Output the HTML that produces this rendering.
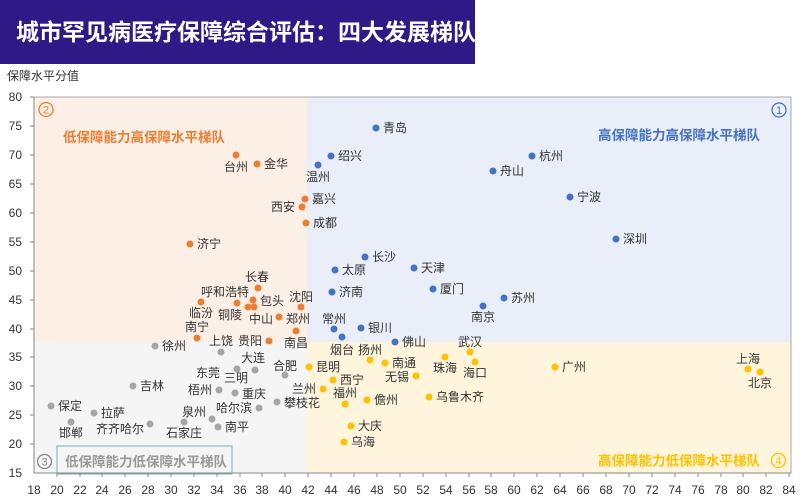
<!DOCTYPE html>
<html><head><meta charset="utf-8"><style>
html,body{margin:0;padding:0;background:#fff;}
svg{display:block;font-family:"Liberation Sans","Noto Sans CJK SC",sans-serif;}
</style></head><body>
<svg width="800" height="500" viewBox="0 0 800 500" xmlns="http://www.w3.org/2000/svg">
<rect x="0" y="0" width="475" height="64" fill="#2e1a87"/>
<text x="16" y="40" font-size="23" font-weight="bold" fill="#fff" font-family="'Noto Sans CJK SC',sans-serif">城市罕见病医疗保障综合评估：四大发展梯队</text>
<text x="7" y="80" font-size="12" fill="#333">保障水平分值</text>
<rect x="34" y="97" width="273" height="245" fill="#fcefe6"/>
<rect x="307" y="97" width="484" height="245" fill="#e9eef8"/>
<rect x="34" y="342" width="273" height="131" fill="#f5f5f6"/>
<rect x="307" y="342" width="484" height="131" fill="#fff5dc"/>
<rect x="34" y="97" width="757" height="376" fill="none" stroke="#aaa" stroke-width="1"/>
<line x1="34" y1="97" x2="34" y2="473" stroke="#888"/>
<line x1="34" y1="473" x2="791" y2="473" stroke="#888"/>
<g font-size="12" fill="#333" text-anchor="end">
<text x="22" y="101">80</text><text x="22" y="130">75</text><text x="22" y="159">70</text><text x="22" y="188">65</text><text x="22" y="217">60</text><text x="22" y="246">55</text><text x="22" y="275">50</text><text x="22" y="304">45</text><text x="22" y="333">40</text><text x="22" y="361">35</text><text x="22" y="390">30</text><text x="22" y="419">25</text><text x="22" y="448">20</text><text x="22" y="477">15</text>
</g>
<g stroke="#888">
<line x1="30" y1="97" x2="34" y2="97"/><line x1="30" y1="126" x2="34" y2="126"/><line x1="30" y1="155" x2="34" y2="155"/><line x1="30" y1="184" x2="34" y2="184"/><line x1="30" y1="213" x2="34" y2="213"/><line x1="30" y1="242" x2="34" y2="242"/><line x1="30" y1="271" x2="34" y2="271"/><line x1="30" y1="300" x2="34" y2="300"/><line x1="30" y1="329" x2="34" y2="329"/><line x1="30" y1="357" x2="34" y2="357"/><line x1="30" y1="386" x2="34" y2="386"/><line x1="30" y1="415" x2="34" y2="415"/><line x1="30" y1="444" x2="34" y2="444"/>
</g>
<circle cx="46" cy="109.5" r="7" fill="none" stroke="#ed7d31" stroke-width="1.3"/><text x="46" y="113.5" font-size="11" fill="#ed7d31" text-anchor="middle">2</text>
<text x="63" y="142" font-size="13.5" font-weight="bold" fill="#ed7d31">低保障能力高保障水平梯队</text>
<circle cx="779" cy="110" r="7" fill="none" stroke="#4472c4" stroke-width="1.3"/><text x="779" y="114" font-size="11" fill="#4472c4" text-anchor="middle">1</text>
<text x="760" y="140" font-size="13.5" font-weight="bold" fill="#4472c4" text-anchor="end">高保障能力高保障水平梯队</text>
<rect x="57" y="446" width="175" height="28" fill="none" stroke="#7ab" stroke-width="1"/>
<circle cx="44.5" cy="461.5" r="7" fill="none" stroke="#888" stroke-width="1.3"/><text x="44.5" y="465.5" font-size="11" fill="#888" text-anchor="middle">3</text>
<text x="146" y="466.5" font-size="13.5" font-weight="bold" fill="#999" text-anchor="middle">低保障能力低保障水平梯队</text>
<circle cx="778.5" cy="460.5" r="7" fill="none" stroke="#ffc000" stroke-width="1.3"/><text x="778.5" y="464.5" font-size="11" fill="#ffc000" text-anchor="middle">4</text>
<text x="760" y="465.5" font-size="13.5" font-weight="bold" fill="#ffc000" text-anchor="end">高保障能力低保障水平梯队</text>
<g font-size="12" fill="#333">
<g fill="#4472c4"><circle cx="376" cy="128" r="3.5"/><circle cx="331" cy="156" r="3.5"/><circle cx="318" cy="165" r="3.5"/><circle cx="532" cy="156" r="3.5"/><circle cx="493" cy="171" r="3.5"/><circle cx="570" cy="197" r="3.5"/><circle cx="616" cy="239" r="3.5"/><circle cx="365" cy="257" r="3.5"/><circle cx="335" cy="270" r="3.5"/><circle cx="414" cy="268" r="3.5"/><circle cx="433" cy="289" r="3.5"/><circle cx="332" cy="292" r="3.5"/><circle cx="504" cy="298" r="3.5"/><circle cx="483" cy="306" r="3.5"/><circle cx="334" cy="329" r="3.5"/><circle cx="342" cy="337" r="3.5"/><circle cx="361" cy="328" r="3.5"/><circle cx="395" cy="342" r="3.5"/></g>
<text x="383" y="132">青岛</text><text x="338" y="160">绍兴</text><text x="318" y="181" text-anchor="middle">温州</text><text x="539" y="160">杭州</text><text x="500" y="175">舟山</text><text x="577" y="201">宁波</text><text x="623" y="243">深圳</text><text x="372" y="261">长沙</text><text x="342" y="274">太原</text><text x="421" y="272">天津</text><text x="440" y="293">厦门</text><text x="339" y="296">济南</text><text x="511" y="302">苏州</text><text x="483" y="321" text-anchor="middle">南京</text><text x="334" y="323" text-anchor="middle">常州</text><text x="342" y="354" text-anchor="middle">烟台</text><text x="368" y="332">银川</text><text x="402" y="346">佛山</text>
<g fill="#ed7d31"><circle cx="236" cy="155" r="3.5"/><circle cx="257" cy="164" r="3.5"/><circle cx="305" cy="199" r="3.5"/><circle cx="302" cy="207" r="3.5"/><circle cx="306" cy="223" r="3.5"/><circle cx="190" cy="244" r="3.5"/><circle cx="258" cy="288" r="3.5"/><circle cx="237" cy="303" r="3.5"/><circle cx="201" cy="302" r="3.5"/><circle cx="253" cy="300" r="3.5"/><circle cx="248" cy="307" r="3.5"/><circle cx="254" cy="307" r="3.5"/><circle cx="279" cy="317" r="3.5"/><circle cx="301" cy="307" r="3.5"/><circle cx="296" cy="331" r="3.5"/><circle cx="197" cy="338" r="3.5"/><circle cx="269" cy="341" r="3.5"/></g>
<text x="236" y="171" text-anchor="middle">台州</text><text x="264" y="168">金华</text><text x="312" y="203">嘉兴</text><text x="295" y="211" text-anchor="end">西安</text><text x="313" y="227">成都</text><text x="197" y="248">济宁</text><text x="257" y="281" text-anchor="middle">长春</text><text x="225" y="296" text-anchor="middle">呼和浩特</text><text x="201" y="317" text-anchor="middle">临汾</text><text x="260" y="305">包头</text><text x="230" y="319" text-anchor="middle">铜陵</text><text x="261" y="323" text-anchor="middle">中山</text><text x="298" y="323" text-anchor="middle">郑州</text><text x="301" y="301" text-anchor="middle">沈阳</text><text x="296" y="347" text-anchor="middle">南昌</text><text x="197" y="331" text-anchor="middle">南宁</text><text x="262" y="345" text-anchor="end">贵阳</text>
<g fill="#a5a5a5"><circle cx="221" cy="352" r="3.5"/><circle cx="155" cy="346" r="3.5"/><circle cx="255" cy="370" r="3.5"/><circle cx="237" cy="369" r="3.5"/><circle cx="285" cy="375" r="3.5"/><circle cx="219" cy="390" r="3.5"/><circle cx="235" cy="393" r="3.5"/><circle cx="133" cy="386" r="3.5"/><circle cx="277" cy="402" r="3.5"/><circle cx="259" cy="408" r="3.5"/><circle cx="212" cy="419" r="3.5"/><circle cx="218" cy="427" r="3.5"/><circle cx="184" cy="422" r="3.5"/><circle cx="150" cy="424" r="3.5"/><circle cx="94" cy="413" r="3.5"/><circle cx="51" cy="406" r="3.5"/><circle cx="71" cy="422" r="3.5"/></g>
<text x="221" y="345" text-anchor="middle">上饶</text><text x="162" y="350">徐州</text><text x="253" y="362" text-anchor="middle">大连</text><text x="208" y="377" text-anchor="middle">东莞</text><text x="236" y="382" text-anchor="middle">三明</text><text x="285" y="370" text-anchor="middle">合肥</text><text x="212" y="394" text-anchor="end">梧州</text><text x="242" y="398">重庆</text><text x="140" y="390">吉林</text><text x="284" y="407">攀枝花</text><text x="252" y="412" text-anchor="end">哈尔滨</text><text x="194" y="416" text-anchor="middle">泉州</text><text x="225" y="431">南平</text><text x="184" y="437" text-anchor="middle">石家庄</text><text x="120" y="433" text-anchor="middle">齐齐哈尔</text><text x="101" y="417">拉萨</text><text x="58" y="410">保定</text><text x="71" y="437" text-anchor="middle">邯郸</text>
<g fill="#ffc000"><circle cx="309" cy="367" r="3.5"/><circle cx="333" cy="380" r="3.5"/><circle cx="323" cy="389" r="3.5"/><circle cx="345" cy="404" r="3.5"/><circle cx="367" cy="400" r="3.5"/><circle cx="351" cy="426" r="3.5"/><circle cx="344" cy="442" r="3.5"/><circle cx="370" cy="360" r="3.5"/><circle cx="385" cy="363" r="3.5"/><circle cx="416" cy="376" r="3.5"/><circle cx="445" cy="357" r="3.5"/><circle cx="470" cy="352" r="3.5"/><circle cx="475" cy="362" r="3.5"/><circle cx="429" cy="397" r="3.5"/><circle cx="555" cy="367" r="3.5"/><circle cx="748" cy="369" r="3.5"/><circle cx="760" cy="372" r="3.5"/></g>
<text x="316" y="371">昆明</text><text x="340" y="384">西宁</text><text x="316" y="393" text-anchor="end">兰州</text><text x="345" y="397" text-anchor="middle">福州</text><text x="374" y="404">儋州</text><text x="358" y="430">大庆</text><text x="351" y="446">乌海</text><text x="370" y="354" text-anchor="middle">扬州</text><text x="392" y="367">南通</text><text x="409" y="381" text-anchor="end">无锡</text><text x="445" y="372" text-anchor="middle">珠海</text><text x="470" y="346" text-anchor="middle">武汉</text><text x="475" y="377" text-anchor="middle">海口</text><text x="436" y="401">乌鲁木齐</text><text x="562" y="371">广州</text><text x="748" y="363" text-anchor="middle">上海</text><text x="760" y="387" text-anchor="middle">北京</text>
</g>
<g font-size="12" fill="#333" text-anchor="middle">
<text x="34" y="494">18</text><text x="57" y="494">20</text><text x="80" y="494">22</text><text x="102" y="494">24</text><text x="125" y="494">26</text><text x="148" y="494">28</text><text x="171" y="494">30</text><text x="194" y="494">32</text><text x="217" y="494">34</text><text x="240" y="494">36</text><text x="262" y="494">38</text><text x="285" y="494">40</text><text x="308" y="494">42</text><text x="331" y="494">44</text><text x="354" y="494">46</text><text x="377" y="494">48</text><text x="400" y="494">50</text><text x="423" y="494">52</text><text x="446" y="494">54</text><text x="469" y="494">56</text><text x="491" y="494">58</text><text x="514" y="494">60</text><text x="537" y="494">62</text><text x="560" y="494">64</text><text x="583" y="494">66</text><text x="606" y="494">68</text><text x="629" y="494">70</text><text x="652" y="494">72</text><text x="675" y="494">74</text><text x="698" y="494">76</text><text x="721" y="494">78</text><text x="743" y="494">80</text><text x="766" y="494">82</text><text x="789" y="494">84</text>
</g>
<g stroke="#888">
<line x1="57" y1="473" x2="57" y2="477"/><line x1="80" y1="473" x2="80" y2="477"/><line x1="102" y1="473" x2="102" y2="477"/><line x1="125" y1="473" x2="125" y2="477"/><line x1="148" y1="473" x2="148" y2="477"/><line x1="171" y1="473" x2="171" y2="477"/><line x1="194" y1="473" x2="194" y2="477"/><line x1="217" y1="473" x2="217" y2="477"/><line x1="240" y1="473" x2="240" y2="477"/><line x1="262" y1="473" x2="262" y2="477"/><line x1="285" y1="473" x2="285" y2="477"/><line x1="308" y1="473" x2="308" y2="477"/><line x1="331" y1="473" x2="331" y2="477"/><line x1="354" y1="473" x2="354" y2="477"/><line x1="377" y1="473" x2="377" y2="477"/><line x1="400" y1="473" x2="400" y2="477"/><line x1="423" y1="473" x2="423" y2="477"/><line x1="446" y1="473" x2="446" y2="477"/><line x1="469" y1="473" x2="469" y2="477"/><line x1="491" y1="473" x2="491" y2="477"/><line x1="514" y1="473" x2="514" y2="477"/><line x1="537" y1="473" x2="537" y2="477"/><line x1="560" y1="473" x2="560" y2="477"/><line x1="583" y1="473" x2="583" y2="477"/><line x1="606" y1="473" x2="606" y2="477"/><line x1="629" y1="473" x2="629" y2="477"/><line x1="652" y1="473" x2="652" y2="477"/><line x1="675" y1="473" x2="675" y2="477"/><line x1="698" y1="473" x2="698" y2="477"/><line x1="721" y1="473" x2="721" y2="477"/><line x1="743" y1="473" x2="743" y2="477"/><line x1="766" y1="473" x2="766" y2="477"/><line x1="789" y1="473" x2="789" y2="477"/>
</g>
</svg>
</body></html>
